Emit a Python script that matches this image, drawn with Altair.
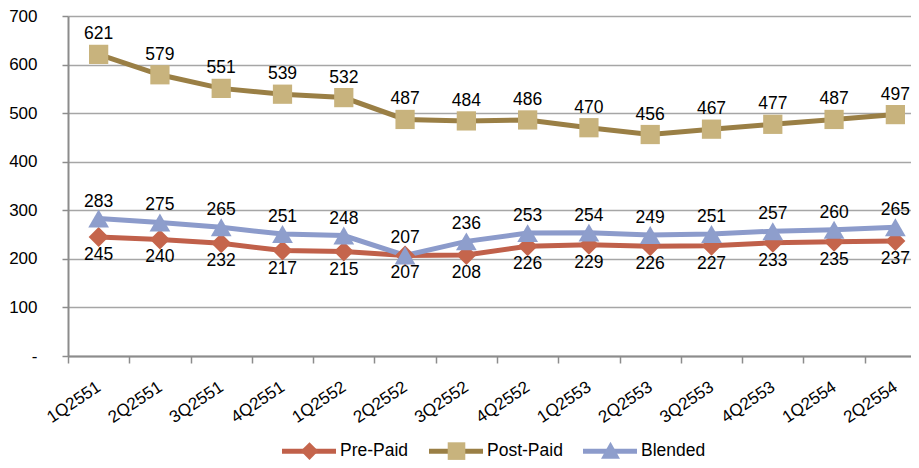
import altair as alt
import pandas as pd

quarters = ["1Q2551", "2Q2551", "3Q2551", "4Q2551", "1Q2552", "2Q2552", "3Q2552",
            "4Q2552", "1Q2553", "2Q2553", "3Q2553", "4Q2553", "1Q2554", "2Q2554"]
pre_paid = [245, 240, 232, 217, 215, 207, 208, 226, 229, 226, 227, 233, 235, 237]
post_paid = [621, 579, 551, 539, 532, 487, 484, 486, 470, 456, 467, 477, 487, 497]
blended = [283, 275, 265, 251, 248, 207, 236, 253, 254, 249, 251, 257, 260, 265]
series_names = ["Pre-Paid", "Post-Paid", "Blended"]
series_values = [pre_paid, post_paid, blended]

line_colors = ["#C0604A", "#9A7F45", "#8C9BCB"]
marker_colors = ["#C5654C", "#C8B37D", "#8E9ECC"]
marker_shapes = ["diamond", "square", "triangle-up"]
marker_sizes = [400, 370, 430]
label_dy = [18, -20, -17]

FONT = "Liberation Sans"

rows = []
for name, vals in zip(series_names, series_values):
    for q, v in zip(quarters, vals):
        rows.append({"quarter": q, "series": name, "series_m": name, "value": v})
df = pd.DataFrame(rows)

x_enc = alt.X("quarter:N", sort=quarters,
              scale=alt.Scale(type="band", paddingInner=0, paddingOuter=0, range=[0, 858]),
              axis=alt.Axis(title=None, labelAngle=-34, labelAlign="right", labelBaseline="middle",
                            labelFontSize=17, labelFont=FONT, labelColor="#000000",
                            tickBand="extent", tickSize=7, tickColor="#8C8C8C", tickWidth=1.5,
                            domainColor="#8C8C8C", domainWidth=2, labelPadding=22, grid=False))
y_enc = alt.Y("value:Q", scale=alt.Scale(domain=[0, 700], nice=False),
              axis=alt.Axis(title=None, values=[0, 100, 200, 300, 400, 500, 600, 700],
                            labelExpr="datum.value == 0 ? '-' : datum.label",
                            labelFontSize=17, labelFont=FONT, labelColor="#000000",
                            tickSize=6, tickColor="#8C8C8C", tickWidth=1.5,
                            domainColor="#8C8C8C", domainWidth=2, labelPadding=25,
                            grid=True, gridColor="#A6A6A6", gridWidth=1.5))

base = alt.Chart(df)
layers = []
for i, name in enumerate(series_names):
    s = base.transform_filter(alt.datum.series == name)
    layers.append(s.mark_line(color=line_colors[i], strokeWidth=5).encode(x=x_enc, y=y_enc))
for i, name in enumerate(series_names):
    s = base.transform_filter(alt.datum.series == name)
    layers.append(s.mark_point(shape=marker_shapes[i], filled=True, opacity=1,
                               size=marker_sizes[i], color=marker_colors[i]).encode(x=x_enc, y=y_enc))
for i, name in enumerate(series_names):
    s = base.transform_filter(alt.datum.series == name)
    layers.append(s.mark_text(dy=label_dy[i], fontSize=17.5, font=FONT, color="#000000")
                  .encode(x=x_enc, y=y_enc, text="value:Q"))

line_path = "M-1,-0.25L4.4,-0.25L4.4,0.25L-1,0.25Z"
legend_marker_paths = [
    "M0.87,0L1.75,-0.88L2.63,0L1.75,0.88Z",
    "M0.87,-0.88L2.63,-0.88L2.63,0.88L0.87,0.88Z",
    "M0.8,0.75L1.75,-0.95L2.7,0.75Z",
]

def make_legend(label_opacity):
    return alt.Legend(title=None, orient="none", direction="horizontal", legendX=214, legendY=425,
                      symbolSize=400, symbolOpacity=1, symbolStrokeWidth=0,
                      labelFont=FONT, labelFontSize=17.5, labelColor="#000000",
                      labelOpacity=label_opacity, labelOffset=38, columnPadding=20, padding=0)

leg_a = make_legend(1)
leg_b = make_legend(0)
layers.append(base.mark_point(filled=True, opacity=0).encode(
    x=x_enc, y=y_enc,
    color=alt.Color("series:N", scale=alt.Scale(domain=series_names, range=line_colors), legend=leg_a),
    shape=alt.Shape("series:N", scale=alt.Scale(domain=series_names,
                                                 range=[line_path] * 3), legend=leg_a),
))
layers.append(base.mark_point(filled=True, opacity=0).encode(
    x=x_enc, y=y_enc,
    fill=alt.Fill("series_m:N", scale=alt.Scale(domain=series_names, range=marker_colors), legend=leg_b),
    shape=alt.Shape("series_m:N", scale=alt.Scale(domain=series_names,
                                                   range=legend_marker_paths), legend=leg_b),
))

chart = alt.layer(*layers).resolve_scale(
    color="independent", shape="independent", fill="independent"
).properties(
    width=843, height=340,
    autosize=alt.AutoSizeParams(type="none"),
    padding={"left": 60, "top": 8, "right": 0, "bottom": 104},
).configure_view(stroke=None)

chart.save("out.html", embed_options={"renderer": "svg", "actions": False})
